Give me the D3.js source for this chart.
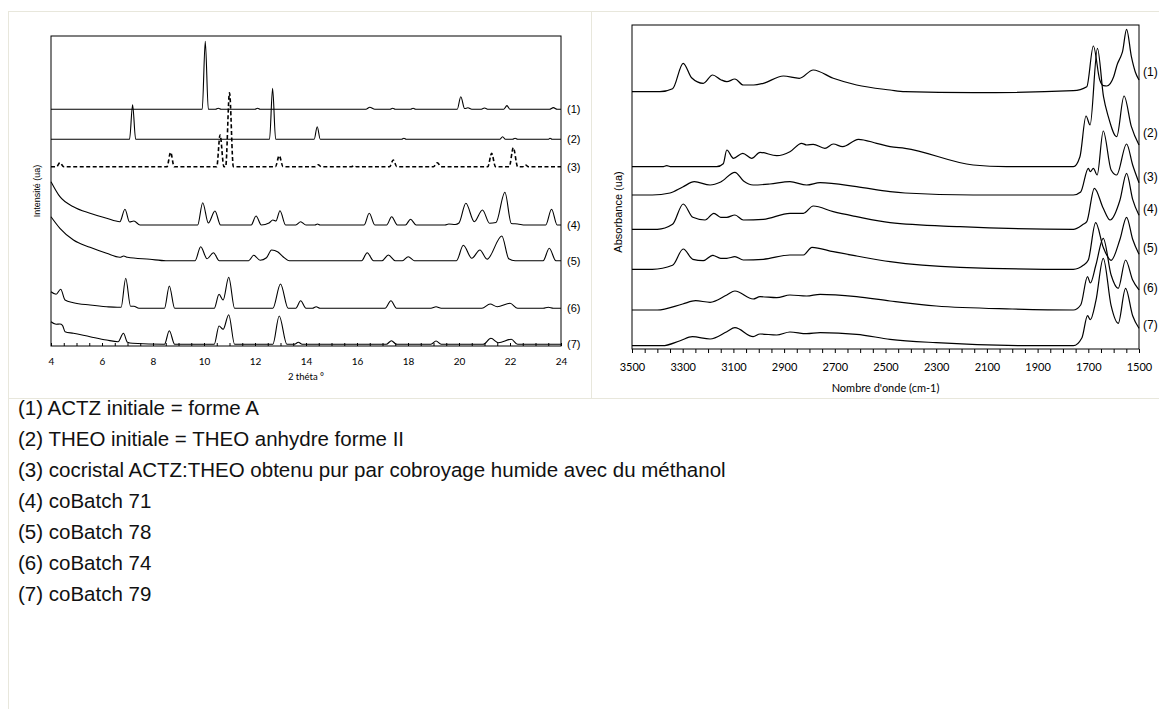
<!DOCTYPE html>
<html><head><meta charset="utf-8">
<script src="https://cdn.jsdelivr.net/npm/d3@7"></script>
<style>
html,body{margin:0;padding:0;background:#fff;}
svg{display:block;}
</style></head>
<body>
<svg id="c" width="1159" height="709"></svg>
<script>
// ---------------- DATA ----------------
// Left panel: X-ray powder diffraction, 2 theta (deg) vs intensity (ua), values above each trace's own baseline
const xrdLabels = ["(1)","(2)","(3)","(4)","(5)","(6)","(7)"];
const xrdOffsets = [236.7, 206.7, 179.3, 121, 85.3, 37.7, 1.7];
const xrdTicks = [4,6,8,10,12,14,16,18,20,22,24];
const xrd1 = [[4,0],[9.93,0],[10.05,68],[10.17,0],[10.45,0],[10.56,1],[10.67,0],[12.0,0],[12.1,1],[12.2,0],[16.35,0],[16.5,2],[16.7,0],[17.3,0],[17.4,1],[17.5,0],[18.1,0],[18.2,1],[18.3,0],[19.93,0],[20.07,12.6],[20.22,0.8],[20.35,1.5],[20.5,0],[20.85,0],[21.0,1.3],[21.15,0],[21.75,0],[21.88,3.7],[22.0,0],[23.55,0],[23.7,1.7],[23.85,0],[24,0]];
const xrd2 = [[4,0],[7.08,0],[7.2,34.6],[7.32,0],[12.57,0],[12.69,51],[12.81,0],[14.32,0],[14.44,12.6],[14.56,0],[17.75,0],[17.84,1],[17.93,0],[21.6,0],[21.71,2.6],[21.82,0],[22.1,0],[22.2,1],[22.3,0],[23.5,0],[23.57,1],[23.65,0],[24,0]];
const xrd3 = [[4,0],[4.22,0],[4.35,4],[4.5,0],[8.55,0],[8.69,14.4],[8.83,0],[10.5,0],[10.63,31.7],[10.78,0],[10.85,0],[11.0,74],[11.15,0],[12.8,0],[12.95,11],[13.1,0],[14.35,0],[14.48,2],[14.6,0],[15.78,0],[15.88,1],[15.98,0],[17.28,0],[17.42,6.7],[17.56,0],[19.0,0],[19.15,4],[19.3,0],[21.13,0],[21.28,13.4],[21.43,0],[21.97,0],[22.13,19],[22.3,0],[22.5,0],[22.6,2],[22.72,0],[24,0]];
const xrd4 = [[4,43.3],[4.35,28.3],[4.88,18.3],[5.53,11.7],[6.18,6.7],[6.7,3.3],[6.9,15.7],[7.08,3],[7.25,4],[7.49,0],[9.75,0],[9.95,22.3],[10.17,2],[10.43,14],[10.65,0],[11.85,0],[12.04,9],[12.25,0],[12.55,2],[12.7,5],[12.82,4],[12.98,14.3],[13.2,0],[13.6,0],[13.79,3.3],[14.0,0],[14.35,0],[14.45,1],[14.55,0],[16.28,0],[16.48,11.7],[16.7,0],[17.16,0],[17.36,8.3],[17.58,0],[17.9,0],[18.1,5.7],[18.32,0],[19.45,0],[19.6,1],[19.85,0.5],[20.0,2],[20.27,21.7],[20.6,3.3],[20.92,15],[21.2,1.7],[21.45,2.5],[21.8,32.7],[22.05,1.5],[22.3,1],[22.6,0],[23.4,0],[23.63,15.7],[23.85,0],[24,0]];
const xrd5 = [[4,44],[4.35,32.4],[4.88,20.7],[5.53,13.4],[6.18,7.4],[6.7,3.4],[6.85,4.7],[7.0,3.4],[7.88,1.4],[8.5,0],[9.65,0],[9.87,14],[10.12,2],[10.37,8],[10.6,0],[11.75,0],[11.95,5.4],[12.2,0.5],[12.45,3],[12.65,10.7],[12.9,8.7],[13.1,4],[13.35,0],[16.18,0],[16.4,8],[16.65,0],[16.98,0],[17.23,5.7],[17.5,0],[17.78,0],[18.01,4],[18.25,0],[19.9,0],[20.17,15.4],[20.5,2.5],[20.82,10.7],[21.1,1.5],[21.68,24.7],[21.95,2],[22.2,0],[23.3,0],[23.54,12.4],[23.8,0],[24,0]];
const xrd6 = [[4,16.6],[4.2,14],[4.38,19],[4.55,8.3],[4.88,5.6],[5.53,3.3],[6.18,1.6],[6.6,1],[6.75,1],[6.93,30],[7.12,2],[7.25,2],[7.45,0],[8.45,0],[8.64,22.3],[8.85,0],[10.4,0],[10.59,14],[10.75,8.3],[10.97,31],[11.2,0],[12.7,0],[13.0,24.3],[13.3,0],[13.6,0],[13.79,7.6],[14.0,0],[14.25,0],[14.4,1.6],[14.55,0],[17.1,0],[17.33,7.6],[17.55,0],[18.9,0],[19.1,1.5],[19.3,0],[20.9,0],[21.22,4.3],[21.5,1.5],[22.0,5],[22.3,0],[23.3,0],[23.5,1],[23.7,0],[24,0]];
const xrd7 = [[4,22.6],[4.2,20],[4.35,20.3],[4.45,19],[4.55,12.6],[4.88,11],[5.53,7.6],[6.18,4.3],[6.63,2.6],[6.84,11],[7.0,2],[7.2,1],[8.45,0],[8.64,13.6],[8.85,0],[10.4,0],[10.59,18.3],[10.75,15],[10.97,29.6],[11.2,0],[12.7,0],[12.95,28.3],[13.25,0],[13.55,0],[13.7,2],[13.85,0],[17.15,0],[17.35,3.6],[17.55,0],[18.9,0],[19.1,3.3],[19.3,0],[20.95,0],[21.25,6],[21.55,1.5],[22.05,5],[22.3,0],[24,0]];
const xrdSeries = [xrd1, xrd2, xrd3, xrd4, xrd5, xrd6, xrd7];

// Right panel: FTIR, wavenumber (cm-1) vs absorbance (ua), values above each trace's own baseline
const irLabels = ["(1)","(2)","(3)","(4)","(5)","(6)","(7)"];
const irOffsets = [257.3, 182.3, 154, 119.7, 79.7, 39, 3.3];
const irTicks = [3500,3300,3100,2900,2700,2500,2300,2100,1900,1700,1500];
const ir1 = [[3500,0],[3390,0],[3340,3],[3298,28.4],[3265,14],[3219,8.4],[3182,16.7],[3150,12],[3126,10],[3094,12.7],[3061,6.7],[3020,6.7],[2982,8.4],[2903,15.7],[2840,13.4],[2785,21.7],[2706,13.4],[2614,6.7],[2482,1.7],[2423,0],[2154,-1],[1759,1],[1706,5],[1680,45.7],[1655,12],[1640,6],[1627,5.7],[1600,15],[1585,28],[1575,33.4],[1565,40],[1549,62.4],[1530,35],[1515,20],[1500,11.7]];
const ir2 = [[3500,0],[3380,0],[3363,1],[3345,0],[3166,0],[3140,3],[3126,16.7],[3100,8.4],[3063,13.4],[3028,8.4],[2995,14.4],[2929,11],[2877,15],[2831,23.4],[2811,21.7],[2785,22.4],[2739,18.4],[2706,22.7],[2669,20],[2607,27.4],[2535,23.4],[2482,20],[2423,18.4],[2154,1.7],[2022,0],[1759,0],[1733,10],[1709,50.7],[1693,41.7],[1664,118.4],[1640,70],[1621,50],[1588,30],[1559,70.7],[1530,40],[1500,21.7]];
const ir3 = [[3500,0],[3420,0],[3350,2],[3300,8],[3254,13.3],[3192,10],[3150,13],[3094,22.7],[3060,14],[3022,10],[2956,11],[2877,13.3],[2811,10],[2758,12.3],[2614,8.3],[2482,3.3],[2423,2],[2154,0],[1759,0],[1730,3],[1700,26.7],[1692,23.3],[1680,26.7],[1665,20],[1641,64],[1610,25],[1588,20],[1549,51],[1525,30],[1500,12.3]];
const ir4 = [[3500,0],[3400,0],[3340,5],[3298,25.3],[3260,12],[3212,9.3],[3177,16],[3150,12],[3126,12],[3094,14.3],[3061,9.3],[2982,10],[2877,16],[2824,16],[2785,23.3],[2706,17.6],[2614,12.6],[2482,6.6],[2206,2.6],[1759,0],[1720,5],[1706,7.6],[1676,41],[1641,21],[1614,9.3],[1575,29.3],[1549,56],[1525,30],[1500,14]];
const ir5 = [[3500,0],[3420,0],[3340,4],[3298,20.3],[3260,10],[3219,8.6],[3182,14],[3150,11],[3126,11],[3094,12.6],[3061,9.3],[2982,10],[2877,14.3],[2824,14.3],[2790,22],[2706,17.6],[2614,13.3],[2482,7.6],[2206,2],[1759,0],[1720,4],[1700,9.3],[1671,46.6],[1641,22],[1610,9],[1575,30],[1549,52],[1525,30],[1500,15]];
const ir6 = [[3500,0],[3400,0],[3300,6],[3249,9.3],[3192,7.7],[3126,15],[3094,19],[3022,11],[2995,13.3],[2929,12.3],[2877,15],[2811,14],[2758,15.7],[2614,13.3],[2482,9],[2300,4],[2000,1],[1759,0],[1730,5],[1703,33.3],[1692,27],[1670,45],[1641,71.7],[1610,35],[1582,21.7],[1553,50],[1525,30],[1500,20]];
const ir7 = [[3500,0],[3380,0],[3310,5],[3262,9],[3192,6.7],[3126,14],[3094,18],[3022,9],[2995,11.7],[2929,10.7],[2877,13.7],[2811,12],[2758,13],[2614,11.4],[2482,6.4],[2300,3],[1900,0],[1759,0],[1725,8],[1703,30],[1692,26],[1670,45],[1641,87.4],[1610,40],[1582,22.4],[1553,57.4],[1525,30],[1500,17.4]];
const irSeries = [ir1, ir2, ir3, ir4, ir5, ir6, ir7];

const legendLines = [
  "(1) ACTZ initiale = forme A",
  "(2) THEO initiale = THEO anhydre forme II",
  "(3) cocristal ACTZ:THEO obtenu pur par cobroyage humide avec du méthanol",
  "(4) coBatch 71",
  "(5) coBatch 78",
  "(6) coBatch 74",
  "(7) coBatch 79"
];

// ---------------- DRAW ----------------
const svg = d3.select("#c");
const frameCol = "#e8e7dc";
// table-like frame
svg.append("line").attr("x1",8).attr("x2",1159).attr("y1",11.5).attr("y2",11.5).attr("stroke",frameCol);
svg.append("line").attr("x1",8.5).attr("x2",8.5).attr("y1",11).attr("y2",709).attr("stroke",frameCol);
svg.append("line").attr("x1",591.5).attr("x2",591.5).attr("y1",11).attr("y2",398).attr("stroke",frameCol);
svg.append("line").attr("x1",8).attr("x2",1159).attr("y1",398.5).attr("y2",398.5).attr("stroke",frameCol);

// ---- Left panel ----
const L = {x0:51, x1:561, y0:36, y1:346};
const xL = d3.scaleLinear().domain([4,24]).range([L.x0, L.x1]);
const yL = d3.scaleLinear().domain([0,310]).range([L.y1, L.y0]);
const gL = svg.append("g");
gL.append("rect").attr("x",L.x0).attr("y",L.y0).attr("width",L.x1-L.x0).attr("height",L.y1-L.y0)
  .attr("fill","none").attr("stroke","#000").attr("stroke-width",1);
const lineL = (off) => d3.line().x(d=>xL(d[0])).y(d=>yL(d[1]+off)).curve(d3.curveMonotoneX);
xrdSeries.forEach((s,i)=>{
  gL.append("path").attr("d", lineL(xrdOffsets[i])(s)).attr("fill","none")
    .attr("stroke","#000").attr("stroke-width", i===2?1.6:1.1)
    .attr("stroke-dasharray", i===2?"4,2.5":null).attr("stroke-linejoin","round");
  gL.append("text").attr("x",L.x1+6).attr("y",yL(xrdOffsets[i])+4)
    .attr("font-family","Liberation Sans, Arial, sans-serif").attr("font-size",11).text(xrdLabels[i]);
});
const axL = gL.append("g").attr("transform",`translate(0,${L.y1})`)
  .call(d3.axisBottom(xL).tickValues(d3.range(4,24.01,0.5)).tickSize(-3).tickFormat(""));
axL.select(".domain").remove();
axL.selectAll("line").attr("stroke","#000");
const axL2 = gL.append("g").attr("transform",`translate(0,${L.y1})`)
  .call(d3.axisBottom(xL).tickValues(xrdTicks).tickSize(0).tickPadding(12).tickFormat(d3.format("d")));
axL2.select(".domain").remove();
axL2.selectAll("text").attr("font-family","Lato, sans-serif").attr("font-size",10).attr("fill","#000");
gL.append("text").attr("x",(L.x0+L.x1)/2).attr("y",380).attr("text-anchor","middle")
  .attr("font-family","Lato, sans-serif").attr("font-size",9.5).text("2  théta °");
gL.append("text").attr("transform",`translate(40,191) rotate(-90)`).attr("text-anchor","middle")
  .attr("font-family","Liberation Sans, Arial, sans-serif").attr("font-size",9).text("Intensité (ua)");

// ---- Right panel ----
const R = {x0:632, x1:1139, y0:25, y1:349};
const xR = d3.scaleLinear().domain([3500,1500]).range([R.x0, R.x1]);
const yR = d3.scaleLinear().domain([0,324]).range([R.y1, R.y0]);
const gR = svg.append("g");
gR.append("rect").attr("x",R.x0).attr("y",R.y0).attr("width",R.x1-R.x0).attr("height",R.y1-R.y0)
  .attr("fill","none").attr("stroke","#000").attr("stroke-width",1);
const lineR = (off) => d3.line().x(d=>xR(d[0])).y(d=>yR(d[1]+off)).curve(d3.curveMonotoneX);
irSeries.forEach((s,i)=>{
  gR.append("path").attr("d", lineR(irOffsets[i])(s)).attr("fill","none")
    .attr("stroke","#000").attr("stroke-width",1.2).attr("stroke-linejoin","round");
});
const irLabelY = [72, 133, 177, 209, 248, 288, 325];
irLabels.forEach((t,i)=>{
  gR.append("text").attr("x",R.x1+4).attr("y",irLabelY[i]+4)
    .attr("font-family","Liberation Sans, Arial, sans-serif").attr("font-size",12).text(t);
});
const axR = gR.append("g").attr("transform",`translate(0,${R.y1})`)
  .call(d3.axisBottom(xR).tickValues(d3.range(3500,1499,-50)).tickSize(4).tickFormat(""));
axR.select(".domain").remove();
axR.selectAll("line").attr("stroke","#000");
const axR2 = gR.append("g").attr("transform",`translate(0,${R.y1})`)
  .call(d3.axisBottom(xR).tickValues(irTicks).tickSize(0).tickPadding(14).tickFormat(d3.format("d")));
axR2.select(".domain").remove();
axR2.selectAll("text").attr("font-family","Lato, sans-serif").attr("font-size",11).attr("fill","#000");
gR.append("text").attr("x",(R.x0+R.x1)/2).attr("y",392).attr("text-anchor","middle")
  .attr("font-family","Lato, sans-serif").attr("font-size",11).text("Nombre d'onde (cm-1)");
gR.append("text").attr("transform",`translate(622,212) rotate(-90)`).attr("text-anchor","middle")
  .attr("font-family","Liberation Sans, Arial, sans-serif").attr("font-size",11).text("Absorbance (ua)");

// ---- Legend text ----
legendLines.forEach((t,i)=>{
  svg.append("text").attr("x",18).attr("y",415+i*31)
    .attr("font-family","Liberation Sans, Arial, sans-serif").attr("font-size",20.5).attr("fill","#111").text(t);
});
</script>
</body></html>
